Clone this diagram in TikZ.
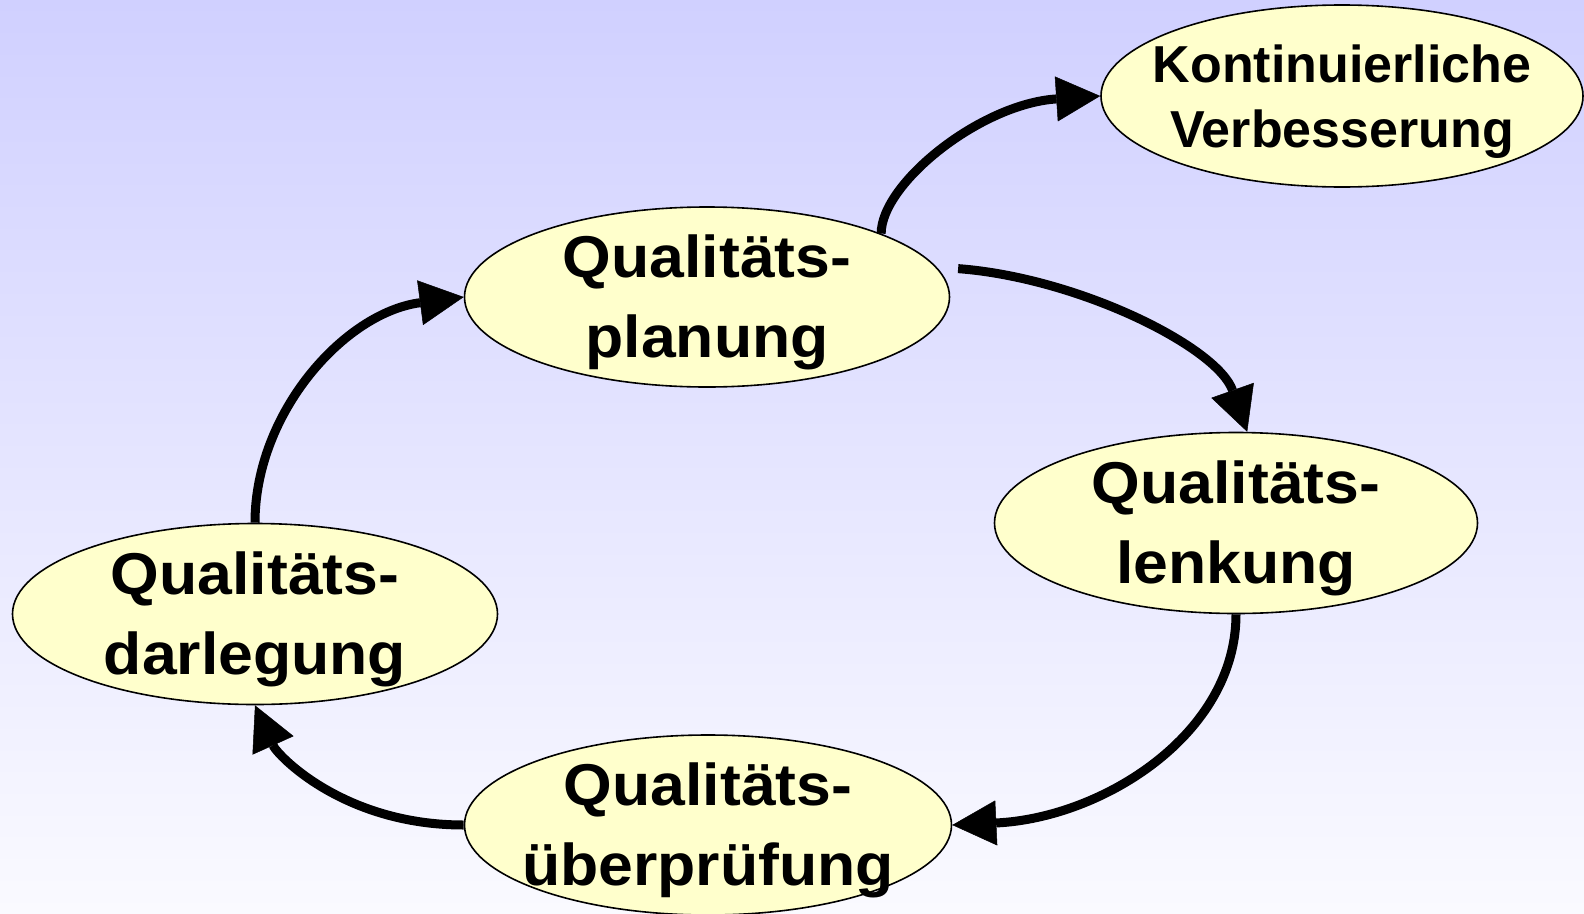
\documentclass[tikz,border=0pt]{standalone}
\usepackage{fontspec}
\setmainfont{Liberation Sans}
\newfontfamily\qfont[FakeStretch=1.06]{Liberation Sans}
\usetikzlibrary{arrows.meta,shapes.geometric}
\definecolor{bgtop}{RGB}{208,208,255}
\definecolor{bgbot}{RGB}{250,250,255}
\definecolor{ovalfill}{RGB}{255,255,204}
\tikzset{
 oval/.style={ellipse, draw=black, line width=1.6pt, fill=ovalfill, inner sep=0pt},
 qtext/.style={align=center, font=\qfont\bfseries\fontsize{59pt}{80pt}\selectfont, inner sep=0pt, yshift=-5pt},
 ktext/.style={align=center, font=\bfseries\fontsize{52pt}{65pt}\selectfont, inner sep=0pt},
 flow/.style={line width=9pt, -{Triangle[length=44pt,width=45pt,line width=0.5pt]}},
}
\begin{document}
\begin{tikzpicture}[x=1pt,y=-1pt]
\shade[top color=bgtop,bottom color=bgbot] (0,0) rectangle (1584,913);
\useasboundingbox (0,0) rectangle (1584,913);
% ovals
\node[oval, minimum width=482pt, minimum height=182pt] (kont) at (1342,96) {};
\node[oval, minimum width=485pt, minimum height=180pt] (plan) at (707,297) {};
\node[oval, minimum width=483pt, minimum height=181pt] (lenk) at (1236,523) {};
\node[oval, minimum width=485pt, minimum height=181pt] (darl) at (255,614) {};
\node[oval, minimum width=487pt, minimum height=180pt] (uber) at (708,825) {};
% texts
\node[ktext, yshift=-6pt] (kontT) at (kont.center) {Kontinuierliche\\Verbesserung};
\node[qtext] (planT) at (plan.center) {Qualitäts-\\planung};
\node[qtext] (lenkT) at (lenk.center) {Qualitäts-\\lenkung};
\node[qtext] (darlT) at (darl.center) {Qualitäts-\\darlegung};
\node[qtext] (uberT) at (uber.center) {Qualitäts-\\überprüfung};
% connectors
\draw[flow] (plan.20.5) .. controls +(0,-50) and +(-120,8) .. (kont.west);
\draw[flow] ([xshift=20pt]plan.7) .. controls +(120,9) and +(-30,-85) .. (lenk.83);
\draw[flow] (lenk.south) .. controls +(0,120) and +(150,-7) .. (uber.east);
\draw[flow] (uber.west) .. controls +(-120,0) and +(22.5,50) .. (darl.south);
\draw[flow] (darl.north) .. controls +(0,-110) and +(-119,15.6) .. (plan.west);
\end{tikzpicture}
\end{document}
